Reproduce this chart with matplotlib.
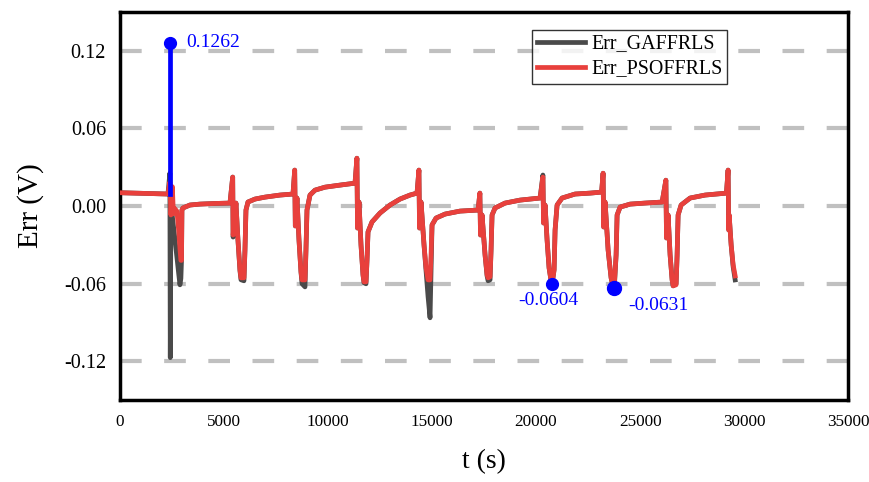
import matplotlib
matplotlib.use("Agg")
import matplotlib.pyplot as plt

plt.rcParams['font.family'] = ['Liberation Serif', 'DejaVu Serif']
plt.rcParams['axes.unicode_minus'] = False

# time axis (s), shared by both error curves, one line per pulse
t = [0, 1200, 2308,
     2400, 2420, 2450, 2520, 2570, 2640, 2740, 2830, 2885, 2930, 2960, 2980, 3029, 3366, 3846, 4568, 5289,
     5420, 5440, 5577, 5673, 5770, 5818, 5962, 6010, 6058, 6154, 6491, 6972, 7693, 8318,
     8400, 8430, 8510, 8606, 8702, 8751, 8895, 8943, 8991, 9135, 9376, 9856, 10578, 11299,
     11390, 11420, 11491, 11587, 11683, 11731, 11828, 11876, 11924, 12116, 12501, 12982, 13462, 13943, 14280,
     14370, 14400, 14472, 14616, 14712, 14809, 14905, 14953, 15001, 15193, 15626, 16347, 17213,
     17300, 17330, 17405, 17549, 17646, 17694, 17790, 17838, 17886, 18030, 18511, 19232, 20194,
     20330, 20360, 20434, 20530, 20626, 20722, 20771, 20867, 20915, 21011, 21251, 21876, 22598, 23150,
     23222, 23250, 23319, 23463, 23607, 23703, 23752, 23848, 23896, 24040, 24521, 25242, 26059,
     26240, 26270, 26347, 26443, 26540, 26588, 26732, 26780, 26828, 26972, 27405, 28126, 29150,
     29230, 29260, 29281, 29377, 29473, 29570]

err_ga = [0.0103, 0.0098, 0.0093,
          0.0254, -0.1172, -0.0030, -0.0080, -0.0150, -0.0250, -0.0400, -0.0530, -0.0609, -0.0560, -0.0420, -0.0030, -0.0015, 0.0008, 0.0015, 0.0020, 0.0023,
          0.0224, -0.0240, 0.0023, -0.0262, -0.0500, -0.0570, -0.0578, -0.0339, -0.0031, 0.0031, 0.0054, 0.0069, 0.0085, 0.0093,
          0.0278, -0.0154, 0.0062, -0.0262, -0.0509, -0.0600, -0.0625, -0.0339, -0.0031, 0.0085, 0.0123, 0.0146, 0.0162, 0.0177,
          0.0370, -0.0170, 0.0031, -0.0301, -0.0532, -0.0594, -0.0601, -0.0416, -0.0200, -0.0123, -0.0054, 0.0008, 0.0054, 0.0085, 0.0100,
          0.0278, -0.0170, 0.0031, -0.0301, -0.0500, -0.0700, -0.0864, -0.0500, -0.0146, -0.0093, -0.0062, -0.0039, -0.0031,
          0.0100, -0.0224, -0.0069, -0.0378, -0.0540, -0.0578, -0.0570, -0.0339, -0.0069, -0.0015, 0.0023, 0.0046, 0.0062,
          0.0240, -0.0131, 0.0008, -0.0262, -0.0478, -0.0578, -0.0604, -0.0493, -0.0185, 0.0008, 0.0062, 0.0093, 0.0100, 0.0108,
          0.0254, -0.0162, 0.0031, -0.0339, -0.0555, -0.0630, -0.0660, -0.0378, -0.0069, -0.0008, 0.0015, 0.0023, 0.0031,
          0.0200, -0.0247, -0.0069, -0.0378, -0.0571, -0.0617, -0.0600, -0.0378, -0.0069, 0.0008, 0.0062, 0.0085, 0.0100,
          0.0278, -0.0185, -0.0069, -0.0301, -0.0470, -0.0571]

err_pso = [0.0103, 0.0098, 0.0093,
           0.0185, 0.0100, -0.0069, 0.0150, -0.0060, -0.0020, -0.0040, -0.0200, -0.0330, -0.0420, -0.0420, -0.0030, -0.0015, 0.0008, 0.0015, 0.0020, 0.0023,
           0.0224, -0.0224, 0.0023, -0.0262, -0.0493, -0.0555, -0.0555, -0.0339, -0.0031, 0.0031, 0.0054, 0.0069, 0.0085, 0.0093,
           0.0278, -0.0154, 0.0062, -0.0262, -0.0509, -0.0571, -0.0571, -0.0339, -0.0031, 0.0085, 0.0123, 0.0146, 0.0162, 0.0177,
           0.0370, -0.0170, 0.0031, -0.0301, -0.0532, -0.0586, -0.0586, -0.0416, -0.0200, -0.0123, -0.0054, 0.0008, 0.0054, 0.0085, 0.0100,
           0.0278, -0.0170, 0.0031, -0.0301, -0.0478, -0.0571, -0.0571, -0.0378, -0.0146, -0.0093, -0.0062, -0.0039, -0.0031,
           0.0100, -0.0224, -0.0069, -0.0378, -0.0532, -0.0555, -0.0547, -0.0339, -0.0069, -0.0015, 0.0023, 0.0046, 0.0062,
           0.0224, -0.0131, 0.0008, -0.0262, -0.0478, -0.0578, -0.0604, -0.0493, -0.0185, 0.0008, 0.0062, 0.0093, 0.0100, 0.0108,
           0.0254, -0.0162, 0.0031, -0.0339, -0.0555, -0.0617, -0.0631, -0.0378, -0.0069, -0.0008, 0.0015, 0.0023, 0.0031,
           0.0200, -0.0247, -0.0069, -0.0378, -0.0571, -0.0617, -0.0609, -0.0378, -0.0069, 0.0008, 0.0062, 0.0085, 0.0100,
           0.0278, -0.0185, -0.0069, -0.0301, -0.0455, -0.0540]

# marked points
peak_t = 2404
peak_base = 0.0093
peak_val = 0.1262
min_t = [20771, 23752]
min_val = [-0.0604, -0.0631]

yticks = [-0.12, -0.06, 0.00, 0.06, 0.12]
xticks = [0, 5000, 10000, 15000, 20000, 25000, 30000, 35000]

fig = plt.figure(figsize=(8.69, 4.82), dpi=100)
ax = fig.add_axes([0.138, 0.170, 0.838, 0.805])

for v in yticks:
    ax.axhline(v, color='#c0c0c0', lw=3, ls=(0, (5.2, 5.4)), zorder=1)

ax.plot(t, err_ga, color='#4a4a4a', lw=3.4, label='Err_GAFFRLS', zorder=2)
ax.plot(t, err_pso, color='#e8403c', lw=3.4, label='Err_PSOFFRLS', zorder=3)

ax.plot([peak_t, peak_t], [peak_base, peak_val], color='#0000ff', lw=3.4, zorder=4)
ax.plot(peak_t, peak_val, 'o', color='#0000ff', ms=8.5, zorder=5)
ax.text(peak_t + 800, peak_val, '%.4f' % peak_val, color='#0000ff', fontsize=14, va='center', ha='left')

ax.plot(min_t[0], min_val[0], 'o', color='#0000ff', ms=8.5, zorder=5)
ax.plot(min_t[1], min_val[1], 'o', color='#0000ff', ms=10, zorder=5)
ax.text(min_t[0] - 200, min_val[0] - 0.013, '%.4f' % min_val[0], color='#0000ff', fontsize=14, va='center', ha='center')
ax.text(min_t[1] + 700, min_val[1] - 0.014, '%.4f' % min_val[1], color='#0000ff', fontsize=14, va='center', ha='left')

ax.set_xlim(0, 35000)
ax.set_ylim(-0.15, 0.15)
ax.set_xticks(xticks)
ax.set_yticks(yticks)
ax.set_yticklabels(['%.2f' % v for v in yticks], fontsize=14.5)
ax.set_xticklabels([str(v) for v in xticks], fontsize=12.3)
ax.tick_params(length=0, pad=10)
for s in ax.spines.values():
    s.set_linewidth(2.5)

ax.set_xlabel('t (s)', fontsize=20, labelpad=14)
ax.set_ylabel('Err (V)', fontsize=21, labelpad=14)

leg = ax.legend(loc='upper left', bbox_to_anchor=(0.566, 0.955), fontsize=14.4, frameon=True,
                fancybox=False, edgecolor='black', handlelength=2.4, borderpad=0.25,
                labelspacing=0.3, handletextpad=0.3, borderaxespad=0)
leg.get_frame().set_linewidth(1.0)

fig.savefig('out.png', dpi=100)
